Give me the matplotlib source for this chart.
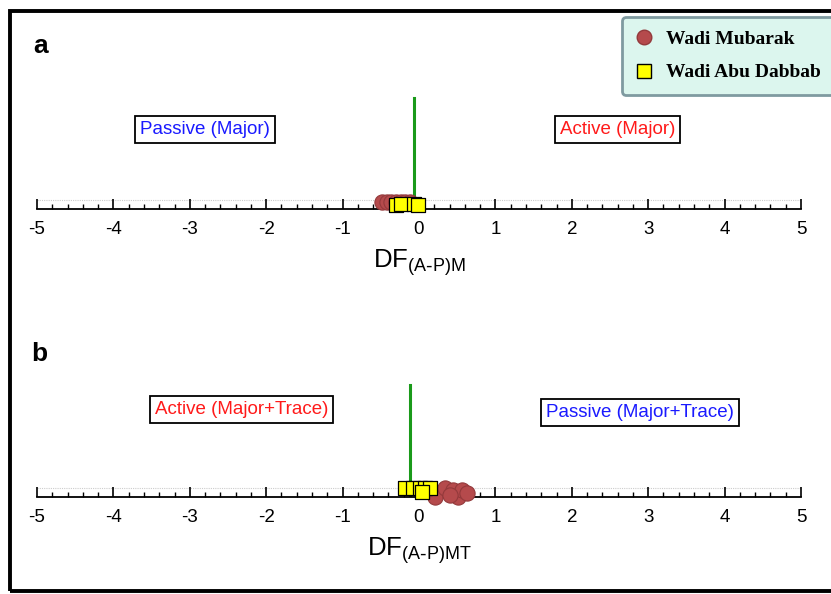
import matplotlib
matplotlib.use("Agg")
import matplotlib.pyplot as plt
from matplotlib.patches import Rectangle
from matplotlib.lines import Line2D
from matplotlib.ticker import MultipleLocator

W, H = 831, 594
DPI = 100

# ---- data ----
a_mubarak_x = [-0.48, -0.42, -0.36, -0.30, -0.24, -0.18, -0.12]
a_mubarak_y = [0.06, 0.06, 0.06, 0.06, 0.06, 0.06, 0.06]
a_dabbab_x = [-0.30, -0.24, -0.07, -0.01]
a_dabbab_y = [0.035, 0.045, 0.045, 0.03]
a_divider = -0.07

b_mubarak_x = [0.21, 0.34, 0.45, 0.51, 0.56, 0.63, 0.40]
b_mubarak_y = [0.00, 0.075, 0.06, 0.00, 0.06, 0.035, 0.02]
b_dabbab_x = [-0.18, -0.08, 0.01, 0.08, 0.14, 0.04]
b_dabbab_y = [0.075, 0.075, 0.075, 0.075, 0.075, 0.04]
b_divider = -0.12

xticks = [-5, -4, -3, -2, -1, 0, 1, 2, 3, 4, 5]

plt.rcParams['font.family'] = ['Liberation Sans', 'DejaVu Sans']

fig = plt.figure(figsize=(W / DPI, H / DPI), dpi=DPI)
fig.patch.set_facecolor('white')

def fx(px):
    return px / W

def fy(py):
    return 1 - py / H

circ_face = '#b54a4c'
circ_edge = '#93393b'
sq_face = '#ffff00'
box_fs = 13.5


def make_axes(bottom_px, top_px):
    ax = fig.add_axes([fx(37), fy(bottom_px), (801 - 37) / W, (bottom_px - top_px) / H])
    ax.set_xlim(-5, 5)
    ax.set_ylim(0, 1)
    for s in ['left', 'right', 'top']:
        ax.spines[s].set_visible(False)
    ax.spines['bottom'].set_linewidth(1.3)
    ax.set_yticks([])
    ax.set_xticks(xticks)
    ax.set_xticklabels([str(t) for t in xticks])
    ax.xaxis.set_minor_locator(MultipleLocator(0.2))
    ax.tick_params(axis='x', which='major', direction='in', length=7, width=1.2,
                   labelsize=13.5, pad=9)
    ax.tick_params(axis='x', which='minor', direction='in', length=3.5, width=1.0)
    ax.patch.set_alpha(0)
    ax.axhline(0.075, color='#cccccc', lw=0.8, ls=(0, (1, 1)), zorder=1)
    return ax

# Panel a
axa = make_axes(209, 89)
axa.plot([a_divider, a_divider], [0, 0.925], color='#1a9a1a', lw=2.2, zorder=2)
axa.scatter(a_mubarak_x, a_mubarak_y, s=120, marker='o', facecolor=circ_face,
            edgecolor=circ_edge, lw=0.8, zorder=3, clip_on=False)
axa.scatter(a_dabbab_x, a_dabbab_y, s=105, marker='s', facecolor=sq_face,
            edgecolor='black', lw=0.9, zorder=4, clip_on=False)
axa.set_xlabel(r'DF$_{\mathregular{(A\text{-}P)M}}$', fontsize=18.5, labelpad=6)
axa.text(-2.80, 0.665, 'Passive (Major)', color='#1a1aff', fontsize=box_fs,
         ha='center', va='center',
         bbox=dict(boxstyle='square,pad=0.26', fc='white', ec='black', lw=1.3))
axa.text(2.60, 0.665, 'Active (Major)', color='#ff1a1a', fontsize=box_fs,
         ha='center', va='center',
         bbox=dict(boxstyle='square,pad=0.26', fc='white', ec='black', lw=1.3))

# Panel b
axb = make_axes(497, 377)
axb.plot([b_divider, b_divider], [0, 0.933], color='#1a9a1a', lw=2.2, zorder=2)
axb.scatter(b_mubarak_x, b_mubarak_y, s=120, marker='o', facecolor=circ_face,
            edgecolor=circ_edge, lw=0.8, zorder=3, clip_on=False)
axb.scatter(b_dabbab_x, b_dabbab_y, s=105, marker='s', facecolor=sq_face,
            edgecolor='black', lw=0.9, zorder=4, clip_on=False)
axb.set_xlabel(r'DF$_{\mathregular{(A\text{-}P)MT}}$', fontsize=18.5, labelpad=6)
axb.text(-2.32, 0.73, 'Active (Major+Trace)', color='#ff1a1a', fontsize=box_fs,
         ha='center', va='center',
         bbox=dict(boxstyle='square,pad=0.26', fc='white', ec='black', lw=1.3))
axb.text(2.89, 0.705, 'Passive (Major+Trace)', color='#1a1aff', fontsize=box_fs,
         ha='center', va='center',
         bbox=dict(boxstyle='square,pad=0.26', fc='white', ec='black', lw=1.3))

# Panel letters
fig.text(fx(33), fy(46), 'a', fontsize=19, fontweight='bold', va='center', ha='left')
fig.text(fx(31), fy(354), 'b', fontsize=19, fontweight='bold', va='center', ha='left')

# Outer frame (right side beyond the image)
fig.patches.append(Rectangle((fx(10), fy(591)), fx(840) - fx(10), fy(11) - fy(591),
                             transform=fig.transFigure, fill=False, ec='black', lw=2.8,
                             zorder=10))

# Legend
handles = [
    Line2D([], [], ls='none', marker='o', markersize=10.5, markerfacecolor=circ_face,
           markeredgecolor=circ_edge),
    Line2D([], [], ls='none', marker='s', markersize=9.5, markerfacecolor=sq_face,
           markeredgecolor='black'),
]
leg = fig.legend(handles, ['Wadi Mubarak', 'Wadi Abu Dabbab'],
                 loc='upper left', bbox_to_anchor=(fx(622), fy(17)),
                 bbox_transform=fig.transFigure,
                 prop={'family': ['Liberation Serif'], 'weight': 'bold', 'size': 14},
                 frameon=True, fancybox=True, facecolor='#dcf6ee', edgecolor='#7f9aa0',
                 framealpha=1, handletextpad=0.65, labelspacing=0.8, borderpad=0.7,
                 handlelength=0.9, borderaxespad=0)
leg.get_frame().set_linewidth(2)

fig.savefig('out.png', dpi=DPI)
